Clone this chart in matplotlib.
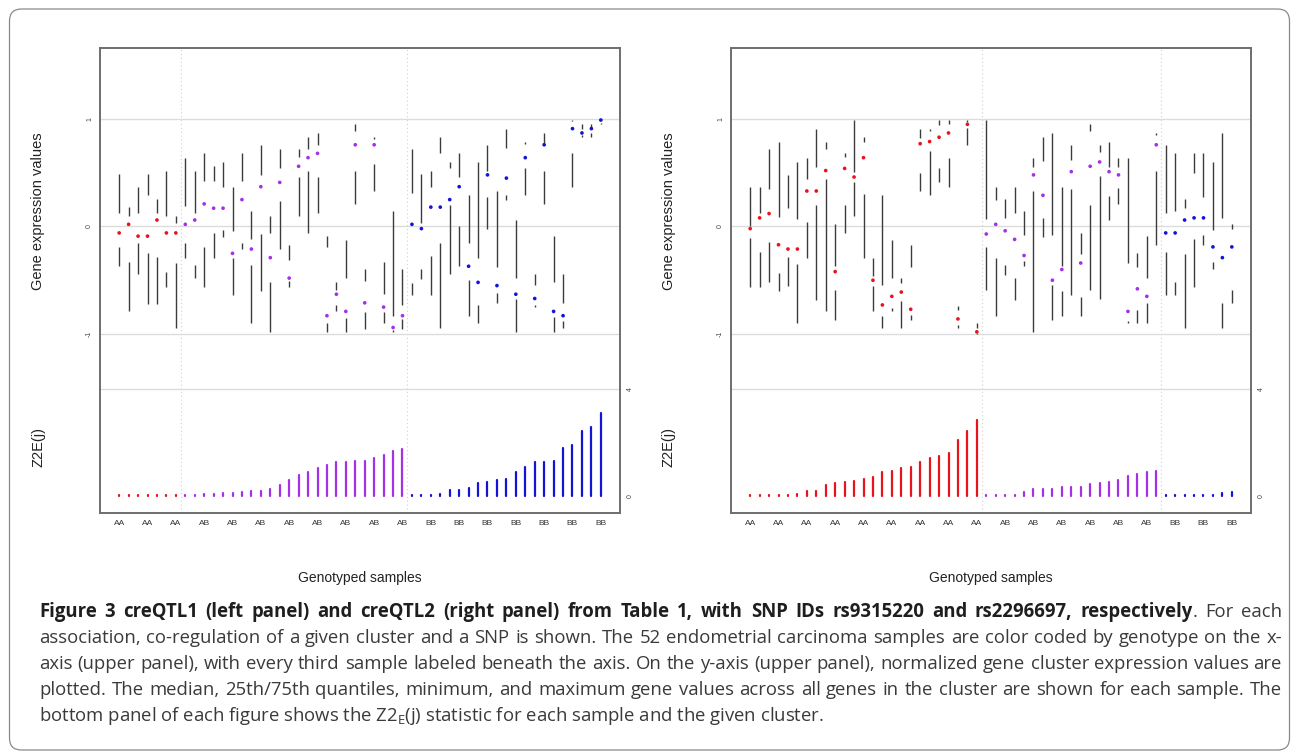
import numpy as np
import matplotlib
matplotlib.use("Agg")
import matplotlib.pyplot as plt
from matplotlib.patches import FancyBboxPatch
from matplotlib.transforms import IdentityTransform

plt.rcParams.update({"font.family": ["Liberation Sans", "DejaVu Sans"],
                     "mathtext.fontset": "custom", "mathtext.rm": "Open Sans"})

W, H = 1295, 756

# ---- creQTL1 (left panel): genotype group sizes and per-sample summaries ----
GROUPS1 = [("AA", 7), ("AB", 24), ("BB", 21)]
MAX1 = [0.49, 0.18, 0.37, 0.49, 0.26, 0.52, 0.10, 0.64, 0.52, 0.68, 0.56, 0.60, 0.37,
        0.68, 0.14, 0.76, 0.10, 0.72, -0.17, 0.72, 0.83, 0.87, -0.09, -0.52, -0.13, 0.95,
        -0.40, 0.83, -0.33, 0.14, -0.40, 0.72, 0.49, 0.52, 0.83, 0.60, 0.68, 0.29, 0.60,
        0.76, 0.33, 0.91, 0.06, 0.79, -0.44, 0.87, -0.09, -0.44, 0.99, 0.95, 0.95, 1.00]
Q75_1 = [0.13, 0.10, 0.13, 0.29, 0.13, 0.10, 0.03, 0.19, 0.13, 0.42, 0.42, 0.37, -0.04,
         0.42, -0.12, 0.48, -0.06, 0.54, -0.31, 0.65, 0.72, 0.76, -0.19, -0.59, -0.48, 0.89,
         -0.51, 0.81, -0.63, -0.83, -0.73, 0.31, 0.03, 0.37, 0.68, 0.54, 0.46, -0.15, -0.29,
         0.52, -0.38, 0.73, -0.48, 0.77, -0.54, 0.78, -0.52, -0.71, 0.98, 0.91, 0.92, 0.99]
MED1 = [-0.06, 0.02, -0.09, -0.09, 0.06, -0.06, -0.06, 0.02, 0.06, 0.21, 0.17, 0.17, -0.25,
        0.25, -0.21, 0.37, -0.29, 0.41, -0.48, 0.56, 0.64, 0.68, -0.83, -0.63, -0.79, 0.76,
        -0.71, 0.76, -0.75, -0.94, -0.83, 0.02, -0.02, 0.18, 0.18, 0.25, 0.37, -0.37, -0.52,
        0.48, -0.55, 0.45, -0.63, 0.64, -0.67, 0.76, -0.79, -0.83, 0.91, 0.87, 0.91, 0.99]
Q25_1 = [-0.19, -0.33, -0.15, -0.25, -0.28, -0.42, -0.34, -0.15, -0.36, -0.19, -0.06, -0.03, -0.29,
         -0.15, -0.36, -0.07, -0.52, 0.24, -0.51, 0.46, 0.52, 0.46, -0.90, -0.73, -0.85, 0.52,
         -0.80, 0.58, -0.80, -0.96, -0.86, -0.53, -0.40, -0.27, -0.15, 0.20, 0.00, -0.50, -0.73,
         0.27, -0.62, 0.29, -0.67, 0.54, -0.73, 0.52, -0.84, -0.88, 0.68, 0.85, 0.87, 0.96]
MIN1 = [-0.37, -0.79, -0.44, -0.72, -0.72, -0.56, -0.94, -0.29, -0.48, -0.56, -0.29, -0.10, -0.64,
        -0.21, -0.90, -0.60, -0.98, -0.21, -0.56, 0.10, -0.06, 0.13, -0.98, -0.79, -0.98, 0.21,
        -0.95, 0.33, -0.90, -0.98, -0.95, -0.64, -0.49, -0.64, -0.94, -0.44, -0.37, -0.83, -0.90,
        -0.02, -0.71, 0.25, -0.98, 0.29, -0.75, 0.21, -0.98, -0.94, 0.37, 0.83, 0.83, 0.95]
Z2_1 = [0.03, 0.03, 0.03, 0.03, 0.03, 0.03, 0.05,
        0.02, 0.03, 0.06, 0.06, 0.12, 0.12, 0.15, 0.19, 0.19, 0.27, 0.40, 0.59, 0.80, 0.91,
        1.05, 1.14, 1.28, 1.28, 1.31, 1.31, 1.40, 1.51, 1.67, 1.77,
        0.02, 0.03, 0.03, 0.09, 0.21, 0.21, 0.31, 0.47, 0.53, 0.59, 0.62, 0.89, 1.09, 1.27,
        1.27, 1.30, 1.79, 1.89, 2.43, 2.56, 3.09]

# ---- creQTL2 (right panel) ----
GROUPS2 = [("AA", 25), ("AB", 19), ("BB", 8)]
MAX2 = [0.37, 0.37, 0.72, 0.79, 0.48, 0.60, 0.64, 0.91, 0.79, 0.02, 0.68, 0.99, 0.83,
        -0.29, 0.29, -0.13, -0.48, -0.17, 0.91, 0.91, 0.99, 0.99, -0.74, 0.99, -0.90, 0.99,
        0.37, 0.26, 0.37, 0.14, 0.64, 0.83, 0.87, 0.37, 0.76, -0.06, 0.95, 0.76, 0.79,
        0.64, 0.64, -0.25, -0.09, 0.87, 0.76, 0.68, 0.26, 0.68, 0.68, 0.60, 0.87, 0.02]
Q75_2 = [0.00, 0.13, 0.35, 0.09, 0.17, 0.07, 0.44, 0.55, 0.72, -0.37, 0.65, 0.51, 0.79,
         -0.46, -0.54, -0.48, -0.53, -0.38, 0.82, 0.89, 0.94, 0.95, -0.78, 0.97, -0.94, 0.07,
         0.25, 0.08, 0.13, -0.08, 0.55, 0.61, -0.08, -0.37, 0.62, -0.26, 0.89, 0.69, 0.55,
         0.55, -0.34, -0.38, -0.48, 0.85, 0.13, 0.14, 0.17, 0.50, 0.27, -0.03, 0.08, -0.02]
MED2 = [-0.02, 0.08, 0.12, -0.17, -0.21, -0.21, 0.33, 0.33, 0.52, -0.42, 0.54, 0.46, 0.64,
        -0.50, -0.73, -0.65, -0.61, -0.77, 0.77, 0.79, 0.83, 0.87, -0.86, 0.95, -0.98, -0.07,
        0.02, -0.04, -0.12, -0.27, 0.48, 0.29, -0.50, -0.40, 0.51, -0.34, 0.56, 0.60, 0.51,
        0.48, -0.79, -0.58, -0.65, 0.76, -0.06, -0.06, 0.06, 0.08, 0.08, -0.19, -0.29, -0.19]
Q25_2 = [-0.11, -0.24, -0.14, -0.43, -0.28, -0.35, 0.04, 0.20, 0.44, -0.59, 0.20, 0.41, 0.30,
         -0.55, -0.83, -0.76, -0.69, -0.82, 0.50, 0.70, 0.54, 0.64, -0.92, 0.92, -0.99, -0.19,
         -0.29, -0.36, -0.48, -0.32, 0.33, 0.08, -0.54, -0.60, 0.35, -0.66, 0.20, 0.47, 0.28,
         0.36, -0.88, -0.78, -0.71, 0.52, -0.24, -0.52, -0.26, -0.12, -0.08, -0.33, -0.71, -0.59]
MIN2 = [-0.56, -0.56, -0.52, -0.60, -0.55, -0.90, -0.29, -0.68, -0.79, -0.87, -0.06, 0.10, -0.29,
        -0.79, -0.94, -0.79, -0.94, -0.87, 0.33, 0.29, 0.41, 0.37, -0.94, 0.76, -1.00, -0.59,
        -0.83, -0.45, -0.68, -0.37, -0.98, -0.10, -0.87, -0.83, -0.64, -0.83, -0.59, -0.67, 0.06,
        0.21, -0.90, -0.90, -0.90, -0.17, -0.64, -0.64, -0.94, -0.56, -0.17, -0.40, -0.94, -0.71]
Z2_2 = [0.03, 0.03, 0.03, 0.03, 0.03, 0.09, 0.19, 0.19, 0.40, 0.47, 0.53, 0.57, 0.64,
        0.70, 0.89, 0.95, 1.05, 1.09, 1.27, 1.42, 1.49, 1.62, 2.09, 2.43, 2.83,
        0.02, 0.03, 0.03, 0.05, 0.15, 0.25, 0.25, 0.25, 0.35, 0.35, 0.35, 0.46, 0.48, 0.54,
        0.60, 0.73, 0.81, 0.90, 0.95,
        0.02, 0.02, 0.02, 0.02, 0.03, 0.04, 0.13, 0.15]

GENO_COLOR = {"AA": "#e8141c", "AB": "#a431e6", "BB": "#1414d6"}
CAP_BOLD = ("Figure 3 creQTL1 (left panel) and creQTL2 (right panel) from Table 1, "
            "with SNP IDs rs9315220 and rs2296697, respectively")
CAP_LINES = [
    "association, co-regulation of a given cluster and a SNP is shown. The 52 endometrial "
    "carcinoma samples are color coded by genotype on the x-",
    "axis (upper panel), with every third sample labeled beneath the axis. On the y-axis "
    "(upper panel), normalized gene cluster expression values are",
    "plotted. The median, 25th/75th quantiles, minimum, and maximum gene values across all "
    "genes in the cluster are shown for each sample. The",
]
CAP_LAST = "bottom panel of each figure shows the Z2$_{\\mathrm{E}}$(j) statistic for each sample and the given cluster."

SPINE = "#6e6e6e"
GRID = "#dcdcdc"


def fx(px):
    return px / W


def fy(py):
    return 1 - py / H


def draw_panel(fig, x_left, groups, mx, q75, med, q25, mn, z2):
    geno = [g for g, n in groups for _ in range(n)]
    x = np.arange(1, len(geno) + 1)
    cols = [GENO_COLOR[g] for g in geno]
    bounds = np.cumsum([n for _, n in groups])[:-1] + 0.5
    w = 520 / W
    ax = fig.add_axes([fx(x_left), fy(388.7), w, (388.7 - 47.7) / H])
    axb = fig.add_axes([fx(x_left), fy(513), w, (513 - 388.7) / H])

    ax.vlines(x, q75, mx, color="#3c3c3c", lw=1.0)
    ax.vlines(x, mn, q25, color="#3c3c3c", lw=1.0)
    ax.scatter(x, med, c=cols, s=7, zorder=3, linewidths=0)
    ax.set_ylim(-1.509, 1.663)
    ax.set_yticks([-1, 0, 1])
    ax.set_yticklabels(["-1", "0", "1"], rotation=90, va="center", fontsize=5, color="#444444")
    ax.grid(axis="y", color=GRID, lw=1.0)
    ax.set_xticks([])

    axb.vlines(x, 0, z2, colors=cols, lw=1.6, capstyle="round")
    axb.set_ylim(-0.634, 4.0)
    axb.axhline(4, color=GRID, lw=1.0, clip_on=False)
    axb.yaxis.tick_right()
    axb.set_yticks([0, 4])
    axb.set_yticklabels(["0", "4"], rotation=90, va="center", fontsize=5, color="#444444")
    ticks = x[::3]
    axb.set_xticks(ticks)
    axb.set_xticklabels([geno[t - 1] for t in ticks], fontsize=6, color="#333333")

    for a in (ax, axb):
        a.set_xlim(-1.03, 54.03)
        a.set_axisbelow(True)
        a.tick_params(length=0, pad=5)
        for b in bounds:
            a.axvline(b, color="#d0d0d0", lw=0.8, ls=(0, (1, 2.5)), zorder=0)
        for s in a.spines.values():
            s.set_color(SPINE)
            s.set_linewidth(1.4)
    ax.spines["bottom"].set_visible(False)
    axb.spines["top"].set_visible(False)

    cx = x_left + 260
    fig.text(fx(x_left - 62), fy(211), "Gene expression values", rotation=90,
             ha="center", va="center", fontsize=10.5, color="#222222")
    fig.text(fx(x_left - 62), fy(447), "Z2E(j)", rotation=90,
             ha="center", va="center", fontsize=10.5, color="#222222")
    fig.text(fx(cx), fy(578), "Genotyped samples", ha="center", va="center",
             fontsize=10, color="#222222")


def caption(fig, x0, x1, ys):
    r = fig.canvas.get_renderer()
    lines = [[[(w, "bold")] for w in CAP_BOLD.split()]]
    lines[0][-1].append((".", "normal"))
    lines[0] += [[("For", "normal")], [("each", "normal")]]
    for ln in CAP_LINES:
        lines.append([[(w, "normal")] for w in ln.split()])

    # font size: widest justified line set with plain spaces just fills the measure
    base = 10.0
    natural = []
    for words in lines:
        tot = 0.0
        for word in words:
            for txt, wt in word:
                t = fig.text(0, 0, txt, fontsize=base, fontweight=wt, family="Open Sans")
                tot += t.get_window_extent(r).width
                t.remove()
        sp = fig.text(0, 0, "a a", fontsize=base, family="Open Sans")
        nospace = fig.text(0, 0, "aa", fontsize=base, family="Open Sans")
        gap = sp.get_window_extent(r).width - nospace.get_window_extent(r).width
        sp.remove(); nospace.remove()
        natural.append(tot + gap * (len(words) - 1))
    size = base * (x1 - x0) / max(natural) * 0.995

    for y, words in zip(ys, lines):
        arts = []
        for word in words:
            segs = []
            for txt, wt in word:
                t = fig.text(0, fy(y), txt, fontsize=size, fontweight=wt, family="Open Sans",
                             color="#1e1e1e" if wt == "bold" else "#3a3a3a", va="center")
                segs.append((t, t.get_window_extent(r).width))
            arts.append(segs)
        widths = [sum(s[1] for s in segs) for segs in arts]
        gap = (x1 - x0 - sum(widths)) / (len(arts) - 1)
        xp = x0
        for segs, wd in zip(arts, widths):
            xs = xp
            for t, sw in segs:
                t.set_x(fx(xs))
                xs += sw
            xp += wd + gap
    fig.text(fx(x0), fy(ys[-1]), CAP_LAST, fontsize=size, family="Open Sans",
             color="#3a3a3a", va="center")


fig = plt.figure(figsize=(W / 100, H / 100), dpi=100)
border = FancyBboxPatch((9.5, H - 750), 1280, 741, boxstyle="round,pad=0,rounding_size=12",
                        transform=IdentityTransform(), facecolor="none",
                        edgecolor="#8a8a8a", lw=0.9)
fig.patches.append(border)

draw_panel(fig, 100, GROUPS1, MAX1, Q75_1, MED1, Q25_1, MIN1, Z2_1)
draw_panel(fig, 731, GROUPS2, MAX2, Q75_2, MED2, Q25_2, MIN2, Z2_2)
caption(fig, 39, 1282, [612, 638, 664, 690, 716])

fig.savefig("out.png", dpi=100)
